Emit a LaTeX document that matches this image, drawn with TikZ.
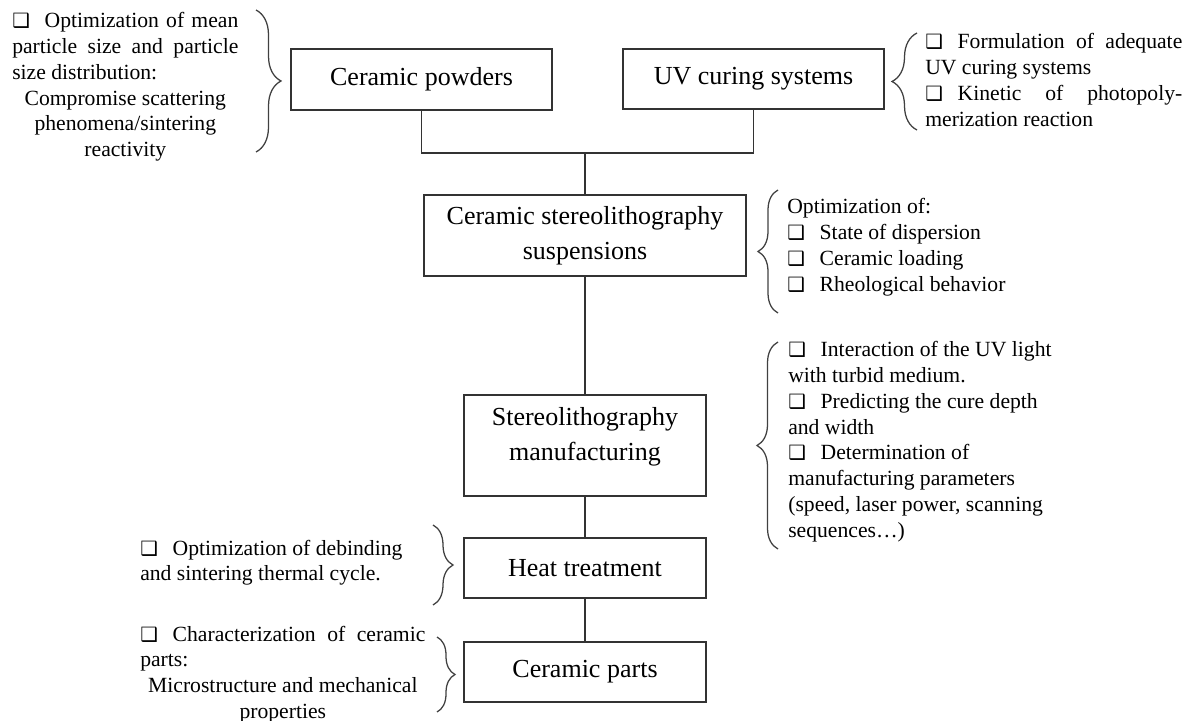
\documentclass[tikz,border=0pt]{standalone}
\usepackage{fontspec}
\setmainfont{Liberation Serif}
\newfontfamily\symfont{DejaVu Sans}
\usepackage{tikz}
\usetikzlibrary{positioning,calc,decorations.pathreplacing}

\newcommand{\sqb}{{\symfont\fontsize{14}{14}\selectfont ❑}\hspace{10.5pt}}
\newcommand{\stagefont}{\fontsize{18.5}{24.9}\selectfont}
\newcommand{\notefont}{\fontsize{15.4}{18.3}\selectfont}

\begin{document}
\begin{tikzpicture}[x=0.025cm, y=-0.025cm,
    stage/.style={draw=black!80, line width=1pt, align=center, font=\stagefont, inner sep=0pt},
    note/.style={inner sep=0pt, font=\notefont, align=justify, text width=#1, anchor=base west},
    curly/.style={draw=black!75, line width=0.9pt, decorate, decoration={brace, amplitude=#1}},
    link/.style={draw=black!80, line width=1pt}]
    \useasboundingbox (0,0) rectangle (1184,721);

    % Process stages
    \node[stage, minimum width=6.525cm, minimum height=1.525cm] (powder) at (421.5,79.5) {Ceramic powders};
    \node[stage, minimum width=6.525cm, minimum height=1.5cm] (uvcure) at (753.5,79) {UV curing systems};
    \node[stage, minimum width=8.05cm, minimum height=2.025cm] (susp) at (585,235.5) {Ceramic stereolithography\\suspensions};
    \node[stage, minimum width=6.05cm, minimum height=2.525cm,
          label={[font=\stagefont, align=center, yshift=0.225cm]center:Stereolithography\\manufacturing}] (slm) at (585,445.5) {};
    \node[stage, minimum width=6.05cm, minimum height=1.5cm] (heat) at (585,568) {Heat treatment};
    \node[stage, minimum width=6.05cm, minimum height=1.5cm] (parts) at (585,672) {Ceramic parts};

    % Connections
    \coordinate (join) at (585,153);
    \draw[link] (powder.south) |- (join) -| (uvcure.south);
    \draw[link] (join) -- (susp.north);
    \draw[link] (susp.south) -- (slm.north);
    \draw[link] (slm.south) -- (heat.north);
    \draw[link] (heat.south) -- (parts.north);

    % Notes
    \node[note=5.65cm] (powdernote) at (12,28) {\sqb Optimization of mean\linebreak particle size and particle\linebreak size distribution:\par{\centering Compromise scattering\\phenomena/sintering\\reactivity\par}};
    \node[note=6.425cm] (uvnote) at (925,49) {\sqb Formulation of adequate\linebreak UV curing systems\\\sqb Kinetic of photopoly-\linebreak merization reaction};
    \node[note=7.5cm] (suspnote) at (787,214) {Optimization of:\\\sqb State of dispersion\\\sqb Ceramic loading\\\sqb Rheological behavior};
    \node[note=7.5cm] (slmnote) at (788,357) {\sqb Interaction of the UV light\\with turbid medium.\\\sqb Predicting the cure depth\\and width\\\sqb Determination of\\manufacturing parameters\\(speed, laser power, scanning\\sequences…)};
    \node[note=7.25cm] (heatnote) at (140,555) {\sqb Optimization of debinding\\and sintering thermal cycle.};
    \node[note=7.125cm] (partsnote) at (140,641) {\sqb Characterization of ceramic\linebreak parts:\par{\centering Microstructure and mechanical\\properties\par}};

    % Braces
    \draw[curly=0.625cm] (256,10) -- (256,152);
    \draw[curly=0.625cm] (917,130) -- (917,33);
    \draw[curly=0.5cm] (778,313) -- (778,190);
    \draw[curly=0.525cm] (778,549) -- (778,342);
    \draw[curly=0.5cm] (433,525) -- (433,605);
    \draw[curly=0.45cm] (437,637) -- (437,712);
\end{tikzpicture}
\end{document}
